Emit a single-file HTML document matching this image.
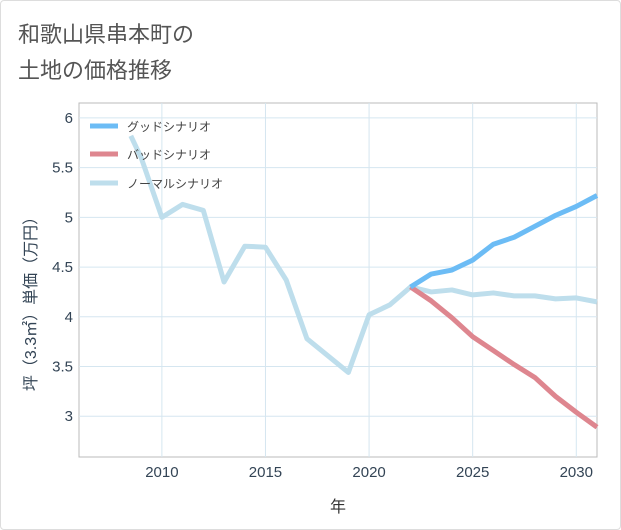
<!DOCTYPE html>
<html><head><meta charset="utf-8"><style>
body{margin:0;background:#fff;font-family:"Liberation Sans","Noto Sans CJK JP",sans-serif}
#c{position:absolute;left:0;top:0;width:619px;height:528px;border:1px solid #ddd;border-radius:4px}
</style></head><body>
<div id="c"></div>
<svg id="s" width="621" height="530" style="position:absolute;left:0;top:0">
<text x="18" y="42" font-size="22" fill="#555">和歌山県串本町の</text>
<text x="18" y="78" font-size="22" fill="#555">土地の価格推移</text>
<rect x="79" y="103" width="518" height="354" fill="none" stroke="#bbb"/>
<g id="grid"></g><g id="lines"></g>
<text x="338" y="512" font-size="16" fill="#333" text-anchor="middle">年</text>
<text transform="translate(36,300) rotate(-90)" font-size="16" fill="#345" text-anchor="middle">坪（3.3㎡）単価（万円）</text>
<g>
<line x1="90" y1="126" x2="118" y2="126" stroke="#6cbcf5" stroke-width="5"/><text x="127" y="131" font-size="12" fill="#444">グッドシナリオ</text>
<line x1="90" y1="154" x2="118" y2="154" stroke="#de868f" stroke-width="5"/><text x="127" y="159" font-size="12" fill="#444">バッドシナリオ</text>
<line x1="90" y1="183" x2="118" y2="183" stroke="#bedeec" stroke-width="5"/><text x="127" y="188" font-size="12" fill="#444">ノーマルシナリオ</text>
</g>
</svg>
<script>
const normalYears=[2008.5,2009,2010,2011,2012,2013,2014,2015,2016,2017,2018,2019,2020,2021,2022,2023,2024,2025,2026,2027,2028,2029,2030,2031];
const normalValues=[5.82,5.6,5.0,5.13,5.07,4.35,4.71,4.70,4.37,3.78,3.61,3.44,4.02,4.12,4.30,4.25,4.27,4.22,4.24,4.21,4.21,4.18,4.19,4.15];
const scenarioYears=[2022,2023,2024,2025,2026,2027,2028,2029,2030,2031];
const goodValues=[4.30,4.43,4.47,4.57,4.73,4.80,4.91,5.02,5.11,5.22];
const badValues=[4.30,4.16,3.99,3.80,3.66,3.52,3.39,3.20,3.04,2.89];
const xTicks=[2010,2015,2020,2025,2030];
const yTicks=[3,3.5,4,4.5,5,5.5,6];
const yLabels=["3","3.5","4","4.5","5","5.5","6"];
const X=v=>79+(v-2006)*518/25;
const Y=v=>457-(v-2.59)*354/3.56;
const NS="http://www.w3.org/2000/svg";
const g=document.getElementById('grid'),L=document.getElementById('lines');
function mk(t,a,p){const e=document.createElementNS(NS,t);for(const k in a)e.setAttribute(k,a[k]);p.appendChild(e);return e;}
xTicks.forEach(t=>{
const l=mk('line',{x1:X(t),x2:X(t),y1:103,y2:457,stroke:'#d5e6f0'},g);


const tx=mk('text',{x:X(t),y:477,'font-size':15,fill:'#345','text-anchor':'middle'},g);tx.textContent=t;


});
yTicks.forEach((t,i)=>{
const l=mk('line',{x1:79,x2:597,y1:Y(t),y2:Y(t),stroke:'#d5e6f0'},g);


const tx=mk('text',{x:73,y:Y(t)+5,'font-size':15,fill:'#345','text-anchor':'end'},g);tx.textContent=yLabels[i];


});
function line(xs,vs,c,n){
const p=mk('polyline',{points:xs.map((x,i)=>X(x)+','+Y(vs[i])).join(' '),fill:'none',stroke:c,'stroke-width':5,'stroke-linejoin':'round'},L);


}
line(normalYears,normalValues,'#bedeec','normal-line');
line(scenarioYears,badValues,'#de868f','bad-line');
line(scenarioYears,goodValues,'#6cbcf5','good-line');
</script>
</body></html>
